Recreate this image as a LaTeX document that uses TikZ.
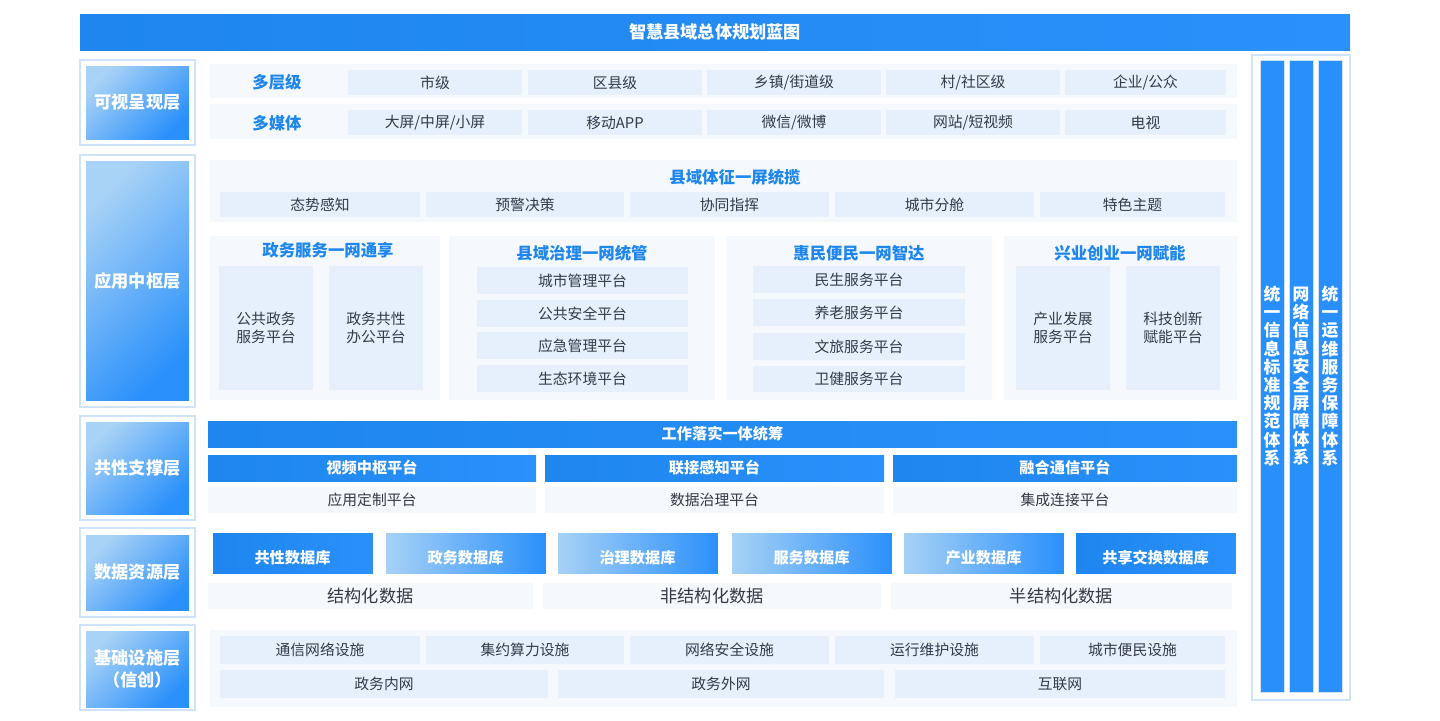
\documentclass[tikz,border=0pt]{standalone}
\usepackage{fontspec}
\setmainfont{Noto Sans CJK SC}
\usetikzlibrary{shapes.geometric}
\definecolor{deep}{HTML}{1E86EE}
\definecolor{cellbg}{HTML}{E6F0FD}
\definecolor{panelbg}{HTML}{F5F9FE}
\definecolor{frame}{HTML}{CFE4FB}
\definecolor{lite}{HTML}{A8D2F6}
\definecolor{bright}{HTML}{2A90FB}
\definecolor{ink}{HTML}{333A45}
% box given by its corners in pixels
\newcommand\bx[7]{\node[#6,minimum width={(#4-#2)*0.5pt},minimum height={(#5-#3)*0.5pt}] (#1) at ({(#2+#4)/2},{(#3+#5)/2}) {#7};}
\tikzset{
 every node/.style={inner sep=0pt,outer sep=0pt},
 panel/.style={fill=panelbg},
 cell/.style={fill=cellbg,text=ink,font=\fontsize{7.4}{9}\selectfont,align=center},
 soft/.style={fill=panelbg,text=ink,font=\fontsize{7.4}{9}\selectfont},
 head/.style={text=deep,font=\bfseries\fontsize{8.2}{10}\selectfont},
 bar/.style={left color=deep,right color=bright,text=white,font=\bfseries\fontsize{7.6}{9}\selectfont},
 layer/.style={draw=frame,line width=0.8pt,fill=white},
 tag/.style={left color=lite,right color=bright,shading angle=45,text=white,font=\bfseries\fontsize{8.6}{11}\selectfont,align=center},
 pillar/.style={fill=bright!90!deep,draw=frame,text=white,font=\bfseries\fontsize{8.4}{9.1}\selectfont,align=center,text width=9pt},
 dbdark/.style={left color=deep,right color=bright},
 dblite/.style={left color=lite,right color=bright},
}
\begin{document}
\begin{tikzpicture}[x=0.5pt,y=-0.5pt]
\useasboundingbox (0,0) rectangle (1440,720);
% title and outer frames
\bx{title}{80}{14}{1350}{50}{bar,font=\bfseries\fontsize{8.6}{10}\selectfont}{智慧县域总体规划蓝图}
\bx{side}{1252}{55}{1350}{700}{layer}{}
\foreach \n/\a/\b/\c/\d/\t in {vis/60/145/66/139/可视呈现层, app/155/407/161/400/应用中枢层,
 sup/416/520/422/514/共性支撑层, dat/528/617/535/610/数据资源层, inf/625/710/631/707/{基础设施层\\（信创）}}{
 \bx{\n o}{80}{\a}{195}{\b}{layer}{}
 \bx{\n}{86}{\c}{189}{\d}{tag}{\t}
}
% pillars
\bx{p1}{1260}{60}{1284}{692}{pillar}{统\\一\\信\\息\\标\\准\\规\\范\\体\\系}
\bx{p2}{1289}{60}{1313}{692}{pillar}{网\\络\\信\\息\\安\\全\\屏\\障\\体\\系}
\bx{p3}{1318}{60}{1342}{692}{pillar}{统\\一\\运\\维\\服\\务\\保\\障\\体\\系}
% visual layer
\bx{lv}{210}{64}{1237}{98}{panel}{}
\bx{md}{210}{104}{1237}{139}{panel}{}
\node[head] (lvh) at (277,82) {多层级};
\node[head] (mdh) at (277,123) {多媒体};
\foreach \x/\y/\t [count=\i] in {348/522/市级,528/702/区县级,707/881/{乡镇/街道级},886/1060/{村/社区级},1065/1226/{企业/公众}}
 {\bx{lv\i}{\x}{70}{\y}{95}{cell}{\t}}
\foreach \x/\y/\t [count=\i] in {348/522/{大屏/中屏/小屏},528/702/移动APP,707/881/{微信/微博},886/1060/{网站/短视频},1065/1226/电视}
 {\bx{md\i}{\x}{110}{\y}{135}{cell}{\t}}
% application layer
\bx{sign}{210}{160}{1237}{222}{panel}{}
\node[head] (signh) at (735,177) {县域体征一屏统揽};
\foreach \x/\y/\t [count=\i] in {220/420/态势感知,426/624/预警决策,630/829/协同指挥,835/1034/城市分舱,1040/1225/特色主题}
 {\bx{sg\i}{\x}{192}{\y}{217}{cell}{\t}}
\bx{gov}{210}{236}{440}{400}{panel}{}
\bx{rul}{449}{236}{715}{400}{panel}{}
\bx{peo}{726}{236}{992}{400}{panel}{}
\bx{ind}{1004}{236}{1237}{400}{panel}{}
\node[head] (govh) at (328,250) {政务服务一网通享};
\node[head] (rulh) at (582,253) {县域治理一网统管};
\node[head] (peoh) at (859,253) {惠民便民一网智达};
\node[head] (indh) at (1120,253) {兴业创业一网赋能};
\bx{gov1}{219}{266}{313}{390}{cell}{公共政务\\服务平台}
\bx{gov2}{329}{266}{423}{390}{cell}{政务共性\\办公平台}
\bx{ind1}{1016}{266}{1110}{390}{cell}{产业发展\\服务平台}
\bx{ind2}{1126}{266}{1220}{390}{cell}{科技创新\\赋能平台}
\foreach \a/\b/\t [count=\i] in {267/294/城市管理平台,300/327/公共安全平台,332/359/应急管理平台,365/392/生态环境平台}
 {\bx{rul\i}{477}{\a}{688}{\b}{cell}{\t}}
\foreach \a/\b/\t [count=\i] in {266/293/民生服务平台,299/326/养老服务平台,333/360/文旅服务平台,366/392/卫健服务平台}
 {\bx{peo\i}{753}{\a}{965}{\b}{cell}{\t}}
% support layer
\bx{work}{208}{421}{1237}{447}{bar}{工作落实一体统筹}
\foreach \x/\y/\t/\s [count=\i] in {208/536/视频中枢平台/应用定制平台,545/884/联接感知平台/数据治理平台,893/1237/融合通信平台/集成连接平台}{
 \bx{hub\i}{\x}{455}{\y}{481}{bar}{\t}
 \bx{sub\i}{\x}{487}{\y}{513}{soft}{\s}
}
% data layer
\foreach \x/\y/\t/\s [count=\i] in {212/373/共性数据库/dbdark,385/546/政务数据库/dblite,557/718/治理数据库/dblite,
 731/892/服务数据库/dblite,903/1064/产业数据库/dblite,1075/1236/共享交换数据库/dbdark}{
 \node[cylinder,shape border rotate=90,aspect=0.12,draw=white,line width=0.4pt,\s,minimum width={(\y-\x)*0.5pt},minimum height=21pt] (db\i) at ({(\x+\y)/2},554) {};
 \node[text=white,font=\bfseries\fontsize{7.6}{9}\selectfont] (dbt\i) at ({(\x+\y)/2},558) {\t};
}
\bx{st1}{208}{583}{533}{609}{soft,font=\fontsize{8.6}{10}\selectfont}{结构化数据}
\bx{st2}{543}{583}{881}{609}{soft,font=\fontsize{8.6}{10}\selectfont}{非结构化数据}
\bx{st3}{891}{583}{1232}{609}{soft,font=\fontsize{8.6}{10}\selectfont}{半结构化数据}
% infrastructure layer
\bx{base}{210}{630}{1237}{707}{panel}{}
\foreach \x/\y/\t [count=\i] in {220/420/通信网络设施,426/624/集约算力设施,630/829/网络安全设施,835/1034/运行维护设施,1040/1225/城市便民设施}
 {\bx{fa\i}{\x}{636}{\y}{664}{cell}{\t}}
\foreach \x/\y/\t [count=\i] in {220/548/政务内网,558/884/政务外网,895/1225/互联网}
 {\bx{net\i}{\x}{670}{\y}{698}{cell}{\t}}
\end{tikzpicture}
\end{document}
